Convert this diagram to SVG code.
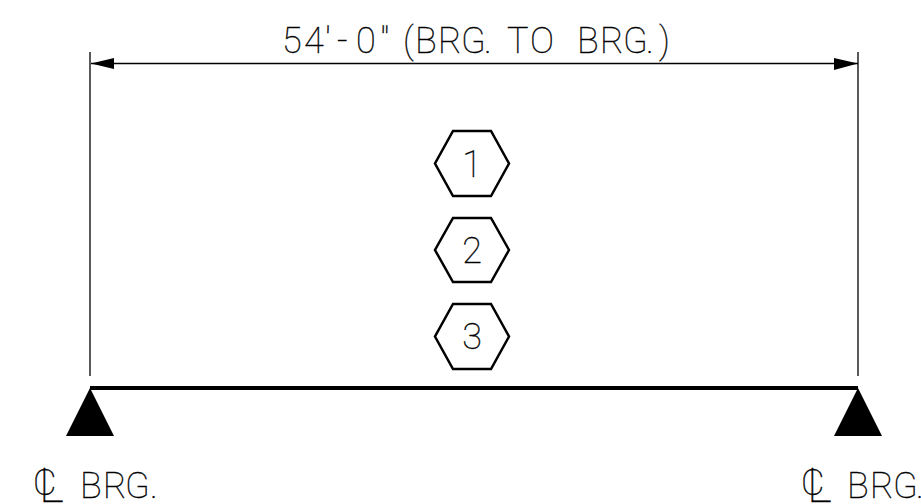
<svg xmlns="http://www.w3.org/2000/svg" width="921" height="504" viewBox="0 0 921 504">
<style>
text{font-family:"Roboto","Liberation Sans",sans-serif;font-weight:100;font-size:36px;fill:#000;stroke:#000;stroke-width:.35;opacity:.999}
.hex{fill:none;stroke:#000;stroke-width:2.5;stroke-linejoin:miter}
.thin{fill:none;stroke:#000;stroke-width:1.3}
.beam{fill:none;stroke:#000;stroke-width:4}
.solid{fill:#000;stroke:none}
.big{font-size:48px}
</style>
<rect width="921" height="504" fill="#fff"/>
<g id="connectors">
<line class="thin" x1="90" y1="52" x2="90" y2="376"/>
<line class="thin" x1="858" y1="52" x2="858" y2="376"/>
<line class="thin" x1="91" y1="63.5" x2="858" y2="63.5"/>
<polygon class="solid" points="91,63.5 114,58 114,69"/>
<polygon class="solid" points="858,63.5 834,58 834,70"/>
</g>
<g id="dimension-label">
<text x="282 304 325 337 356 380 403 415 438 461 484 495 507 530 560 577 600 623 646 659" y="53">54'-0"(BRG. TO BRG.)</text>
</g>
<g id="beam"><line class="beam" x1="90" y1="388" x2="858" y2="388"/></g>
<g id="support-left"><polygon class="solid" points="90,388 114,436 66,436"/></g>
<g id="support-right"><polygon class="solid" points="858,388 882,436 834,436"/></g>
<g id="mark-1"><polygon class="hex" points="453,131 491,131 509,163.500 491,196 453,196 435,163.500"/><text x="472" y="177" text-anchor="middle">1</text></g>
<g id="mark-2"><polygon class="hex" points="453,218 491,218 509,250 491,282 453,282 435,250"/><text x="472" y="263" text-anchor="middle">2</text></g>
<g id="mark-3"><polygon class="hex" points="453,304 491,304 509,336.500 491,369 453,369 435,336.500"/><text x="472" y="349" text-anchor="middle">3</text></g>
<g id="label-left">
<text x="33" y="495">C<tspan class="big" x="39" y="502">L</tspan><tspan x="80 103 125 150" y="498">BRG.</tspan></text>
</g>
<g id="label-right">
<text x="801" y="495">C<tspan class="big" x="807" y="502">L</tspan><tspan x="847 870 893 916" y="498">BRG.</tspan></text>
</g>
</svg>
